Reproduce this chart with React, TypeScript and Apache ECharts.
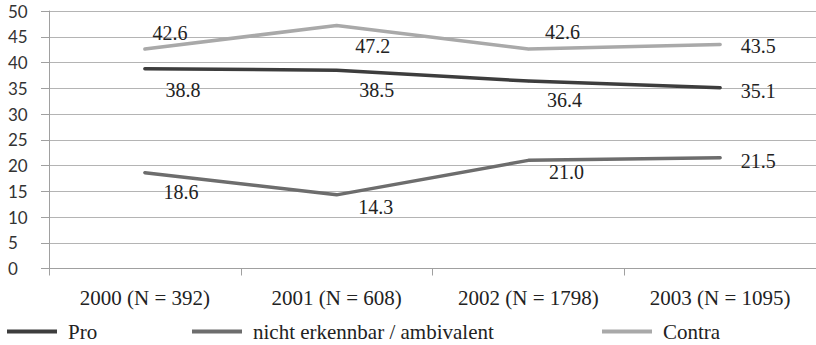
import React, { useEffect, useRef } from "react";
import * as echarts from "echarts";

const categories = ["2000 (N = 392)", "2001 (N = 608)", "2002 (N = 1798)", "2003 (N = 1095)"];
const seriesNames = ["Pro", "nicht erkennbar / ambivalent", "Contra"];
const proValues = [38.8, 38.5, 36.4, 35.1];
const nichtValues = [18.6, 14.3, 21.0, 21.5];
const contraValues = [42.6, 47.2, 42.6, 43.5];
const yMin = 0;
const yMax = 50;
const yStep = 5;

const colors = ["#3d3d3d", "#6d6d6d", "#a9a9a9"];
const labelOffsets = [
  [[38, 21], [40, 20], [36, 19], [38, 3]],
  [[36, 19], [39, 12], [38, 12], [38, 3]],
  [[25, -16], [36, 21], [34, -17], [38, 2]],
];
const legendLefts = [7, 192, 602];

const SERIF = "'Liberation Serif', 'Times New Roman', serif";

export default function App() {
  const ref = useRef<HTMLDivElement>(null);
  useEffect(() => {
    if (!ref.current) return;
    const chart = echarts.init(ref.current, null, { renderer: "svg" });
    const allValues = [proValues, nichtValues, contraValues];
    const series = allValues.map((vals, si) => ({
      name: seriesNames[si],
      type: "line",
      data: vals.map((v, i) => ({
        value: v,
        label: { offset: labelOffsets[si][i] },
      })),
      symbol: "circle",
      symbolSize: 2,
      showSymbol: true,
      itemStyle: { color: colors[si] },
      lineStyle: { color: colors[si], width: 3.5, cap: "round", join: "round" },
      label: {
        show: true,
        position: "inside",
        fontFamily: SERIF,
        fontSize: 20,
        color: "#222222",
        formatter: (p: any) => Number(p.value).toFixed(1),
      },
      emphasis: { disabled: true },
      z: 3,
    }));
    chart.setOption({
      animation: false,
      backgroundColor: "#ffffff",
      grid: { left: 49, top: 11, width: 776, height: 257.5, containLabel: false },
      legend: seriesNames.map((n, i) => ({
        data: [n],
        left: legendLefts[i],
        top: 321,
        padding: 0,
        icon: "rect",
        itemWidth: 50,
        itemHeight: 4,
        selectedMode: false,
        textStyle: {
          fontFamily: SERIF,
          fontSize: 21,
          color: "#222222",
          padding: [0, 0, 0, 6],
        },
      })),
      xAxis: {
        type: "category",
        data: categories,
        boundaryGap: true,
        axisLine: { show: true, lineStyle: { color: "#a0a0a0", width: 1 } },
        axisTick: { show: true, length: 7, alignWithLabel: false, lineStyle: { color: "#a0a0a0" } },
        axisLabel: {
          fontFamily: SERIF,
          fontSize: 21,
          color: "#222222",
          margin: 19,
          interval: 0,
        },
        splitLine: { show: false },
      },
      yAxis: {
        type: "value",
        min: yMin,
        max: yMax,
        interval: yStep,
        axisLine: { show: true, lineStyle: { color: "#a0a0a0", width: 1 } },
        axisTick: { show: true, length: 8, lineStyle: { color: "#a0a0a0" } },
        axisLabel: {
          fontFamily: "Lato, 'Open Sans', sans-serif",
          fontSize: 17,
          color: "#333333",
          align: "left",
          margin: 41,
        },
        splitLine: { show: true, lineStyle: { color: "#b4b4b4", width: 1 } },
      },
      series,
    });
    return () => chart.dispose();
  }, []);
  return (
    <div
      ref={ref}
      style={{ position: "fixed", left: 0, top: 0, width: 816, height: 345, background: "#fff" }}
    />
  );
}
